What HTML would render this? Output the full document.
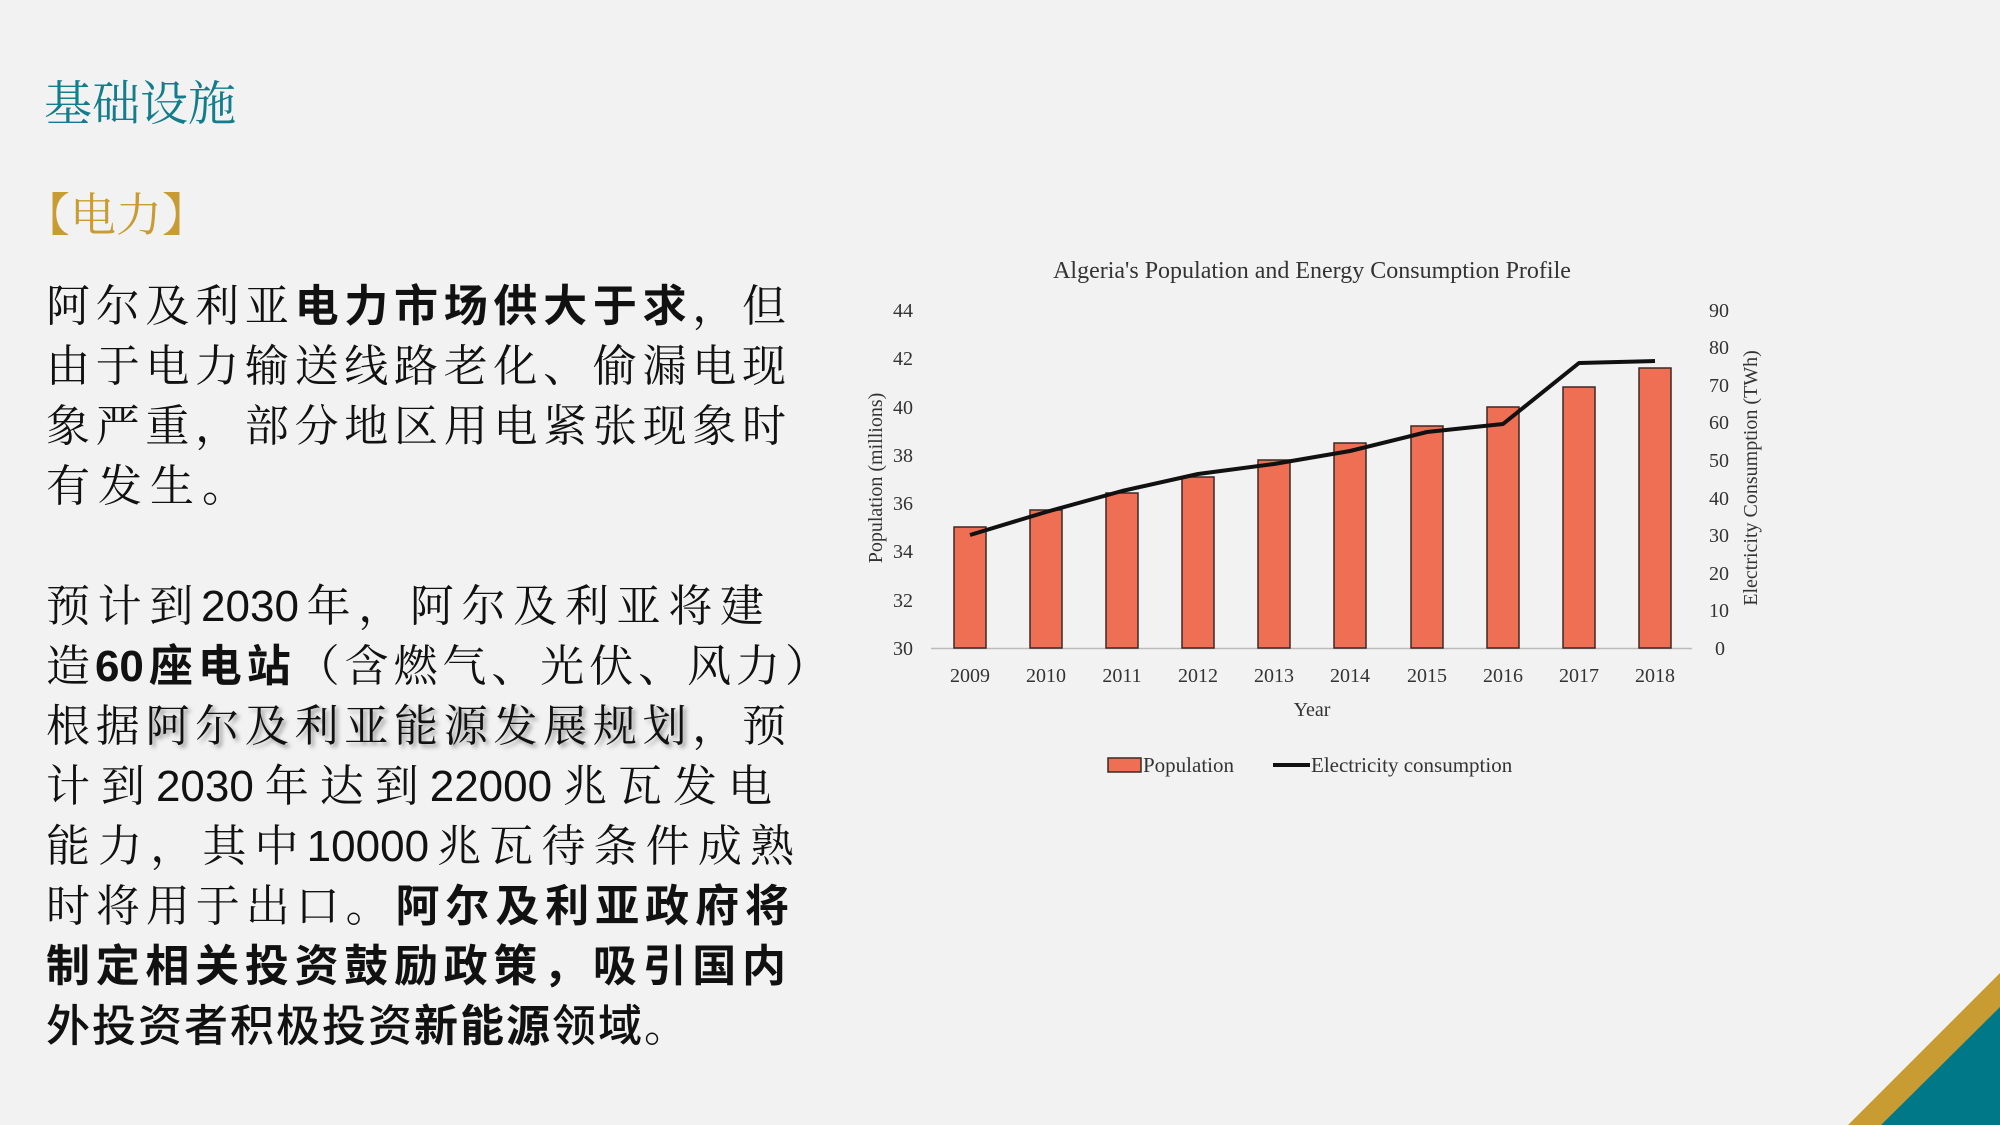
<!DOCTYPE html>
<html><head><meta charset="utf-8">
<style>
html,body{margin:0;padding:0;}
body{width:2000px;height:1125px;background:#f2f2f2;position:relative;overflow:hidden;font-family:"Liberation Serif","Noto Serif CJK SC",serif;}
.t{position:absolute;white-space:nowrap;}
.ln{position:absolute;left:46px;height:60px;line-height:60px;font-size:44px;color:#111;font-family:"Liberation Sans","Noto Serif CJK SC",serif;white-space:nowrap;text-align:justify;text-align-last:justify;}
.nat{text-align:left;text-align-last:left;letter-spacing:8px;}
b{font-family:"Liberation Sans","Noto Sans CJK SC",sans-serif;font-weight:700;}
.sh{text-shadow:3px 3px 4px #999;}
</style></head><body>
<div class="t" style="left:44px;top:70px;font-size:48px;color:#137d8c;font-family:'Noto Serif CJK SC',serif;line-height:60px;">基础设施</div>
<div class="t" style="left:24px;top:182px;font-size:46px;color:#c89c32;font-family:'Noto Serif CJK SC',serif;line-height:60px;">【电力】</div>

<div class="ln" style="top:277px;width:740px;">阿尔及利亚<b>电力市场供大于求</b>，但</div>
<div class="ln" style="top:337px;width:740px;">由于电力输送线路老化、偷漏电现</div>
<div class="ln" style="top:397px;width:740px;">象严重，部分地区用电紧张现象时</div>
<div class="ln nat" style="top:457px;">有发生。</div>

<div class="ln" style="top:577px;width:718px;">预计到2030年，阿尔及利亚将建</div>
<div class="ln" style="top:637px;width:783px;">造<b>60座电站</b>（含燃气、光伏、风力）</div>
<div class="ln" style="top:697px;width:740px;">根据<span class="sh">阿尔及利亚能源发展规划</span>，预</div>
<div class="ln" style="top:757px;width:726px;">计到2030年达到22000兆瓦发电</div>
<div class="ln" style="top:817px;width:748px;">能力，其中10000兆瓦待条件成熟</div>
<div class="ln" style="top:877px;width:743px;">时将用于出口。<b>阿尔及利亚政府将</b></div>
<div class="ln" style="top:937px;width:740px;"><b>制定相关投资鼓励政策，吸引国内</b></div>
<div class="ln nat" style="top:997px;letter-spacing:2px;"><b style="font-weight:500">外投资者积极投资</b><b>新能源</b><b style="font-weight:500">领域</b>。</div>

<svg style="position:absolute;left:0;top:0" width="2000" height="1125" viewBox="0 0 2000 1125">
<g font-family="Liberation Serif, serif" fill="#333">
<text x="1312" y="278" font-size="24" text-anchor="middle">Algeria's Population and Energy Consumption Profile</text>
<g font-size="20" text-anchor="middle">
<text x="903" y="317">44</text><text x="903" y="365">42</text><text x="903" y="414">40</text><text x="903" y="462">38</text><text x="903" y="510">36</text><text x="903" y="558">34</text><text x="903" y="607">32</text><text x="903" y="655">30</text>
</g>
<g font-size="20" text-anchor="start">
<text x="1709" y="317">90</text><text x="1709" y="354">80</text><text x="1709" y="392">70</text><text x="1709" y="429">60</text><text x="1709" y="467">50</text><text x="1709" y="505">40</text><text x="1709" y="542">30</text><text x="1709" y="580">20</text><text x="1709" y="617">10</text><text x="1715" y="655">0</text>
</g>
<g font-size="20" text-anchor="middle">
<text x="970" y="682">2009</text><text x="1046" y="682">2010</text><text x="1122" y="682">2011</text><text x="1198" y="682">2012</text><text x="1274" y="682">2013</text><text x="1350" y="682">2014</text><text x="1427" y="682">2015</text><text x="1503" y="682">2016</text><text x="1579" y="682">2017</text><text x="1655" y="682">2018</text>
<text x="1312" y="716">Year</text>
</g>
<text transform="translate(882,478) rotate(-90)" font-size="20" text-anchor="middle">Population (millions)</text>
<text transform="translate(1757,478) rotate(-90)" font-size="20" text-anchor="middle">Electricity Consumption (TWh)</text>
</g>
<line x1="931" y1="648.5" x2="1692" y2="648.5" stroke="#bbb" stroke-width="1.5"/>
<g fill="#ef6f55" stroke="#3a2a25" stroke-width="1.5">
<rect x="954" y="527" width="32" height="121"/>
<rect x="1030" y="510" width="32" height="138"/>
<rect x="1106" y="493" width="32" height="155"/>
<rect x="1182" y="477" width="32" height="171"/>
<rect x="1258" y="460" width="32" height="188"/>
<rect x="1334" y="443" width="32" height="205"/>
<rect x="1411" y="426" width="32" height="222"/>
<rect x="1487" y="407" width="32" height="241"/>
<rect x="1563" y="387" width="32" height="261"/>
<rect x="1639" y="368" width="32" height="280"/>
</g>
<polyline fill="none" stroke="#111" stroke-width="4" stroke-linejoin="round" points="970,535 1046,512 1122,491 1198,474 1274,464 1350,451 1427,432 1503,424 1579,363 1655,361"/>
<rect x="1108" y="758" width="33" height="14" fill="#ef6f55" stroke="#3a2a25" stroke-width="1.5"/>
<text x="1143" y="772" font-family="Liberation Serif, serif" font-size="21" fill="#333">Population</text>
<line x1="1273" y1="765" x2="1310" y2="765" stroke="#111" stroke-width="4"/>
<text x="1311" y="772" font-family="Liberation Serif, serif" font-size="21" fill="#333">Electricity consumption</text>
<polygon points="1848,1125 2000,973 2000,1125" fill="#c89c32"/>
<polygon points="1881,1125 2000,1007 2000,1125" fill="#007888"/>
</svg>
</body></html>
